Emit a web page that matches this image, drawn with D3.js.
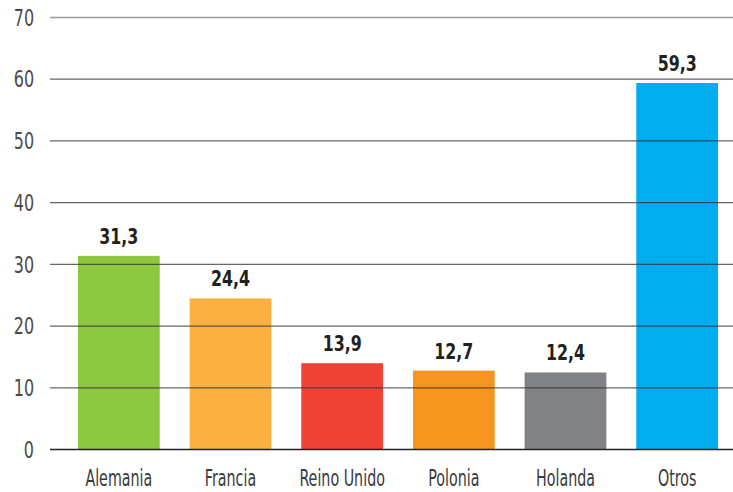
<!DOCTYPE html>
<html><head><meta charset="utf-8">
<script src="https://cdn.jsdelivr.net/npm/d3@7"></script>
<style>
html,body{margin:0;padding:0;background:#fff;}
svg{display:block;}
text{font-family:"DejaVu Sans Condensed","DejaVu Sans",sans-serif;font-stretch:condensed;}
</style></head>
<body>
<svg id="chart" width="733" height="492"></svg>
<script>
const categories = ["Alemania","Francia","Reino Unido","Polonia","Holanda","Otros"];
const values = [31.3, 24.4, 13.9, 12.7, 12.4, 59.3];
const valueLabels = ["31,3","24,4","13,9","12,7","12,4","59,3"];
const colors = ["#8dc63f","#fbb040","#ef4136","#f7941d","#808285","#00aeef"];
const yTicks = [0,10,20,30,40,50,60,70];

const svg = d3.select("#chart");
const y = d3.scaleLinear().domain([0,70]).range([449,17]);
const x = d3.scaleBand().domain(categories).range([63,733]).paddingInner(0.268).paddingOuter(0.134);

// bars
svg.selectAll("rect.bar").data(categories).join("rect")
  .attr("class","bar")
  .attr("x", d => x(d))
  .attr("width", x.bandwidth())
  .attr("y", (d,i) => y(values[i]))
  .attr("height", (d,i) => y(0) - y(values[i]))
  .attr("fill", (d,i) => colors[i]);

// gridlines (over bars)
const ySx = 0.77;
const yAxis = d3.axisLeft(y).tickValues(yTicks).tickSize(-(733-50)).tickFormat(d3.format("d"));
const ga = svg.append("g").attr("transform","translate(50,0)").call(yAxis);
ga.select(".domain").remove();
ga.selectAll(".tick line")
  .attr("stroke", d => d === 0 ? "#222" : (d === 70 ? "#777" : "#333"))
  .attr("stroke-opacity", d => d === 0 ? 1 : 0.75)
  .attr("stroke-width", 1.3);
ga.selectAll(".tick text")
  .attr("fill","#4a4a4a")
  .style("font-size","23px")
  .attr("x", -16/ySx)
  .attr("dy","0.36em")
  .attr("transform", `scale(${ySx},1)`);

// category labels
const xSx = 0.69;
const xAxis = d3.axisBottom(x).tickSize(0).tickPadding(21);
const gx = svg.append("g").attr("transform","translate(0,449)").call(xAxis);
gx.select(".domain").remove();
gx.selectAll(".tick text").attr("fill","#3a3a3a").style("font-size","23px").attr("dy","0.71em")
  .attr("transform", `scale(${xSx},1)`);

// value labels
const vSx = 0.8;
svg.selectAll("g.val").data(categories).join("g")
  .attr("class","val")
  .attr("transform", (d,i) => `translate(${x(d) + x.bandwidth()/2},${y(values[i]) - 12})`)
  .append("text")
  .attr("text-anchor","middle")
  .attr("fill","#231f20")
  .attr("transform", `scale(${vSx},1)`)
  .style("font-size","22px")
  .style("font-weight","bold")
  .text((d,i) => valueLabels[i]);
</script>
</body></html>
